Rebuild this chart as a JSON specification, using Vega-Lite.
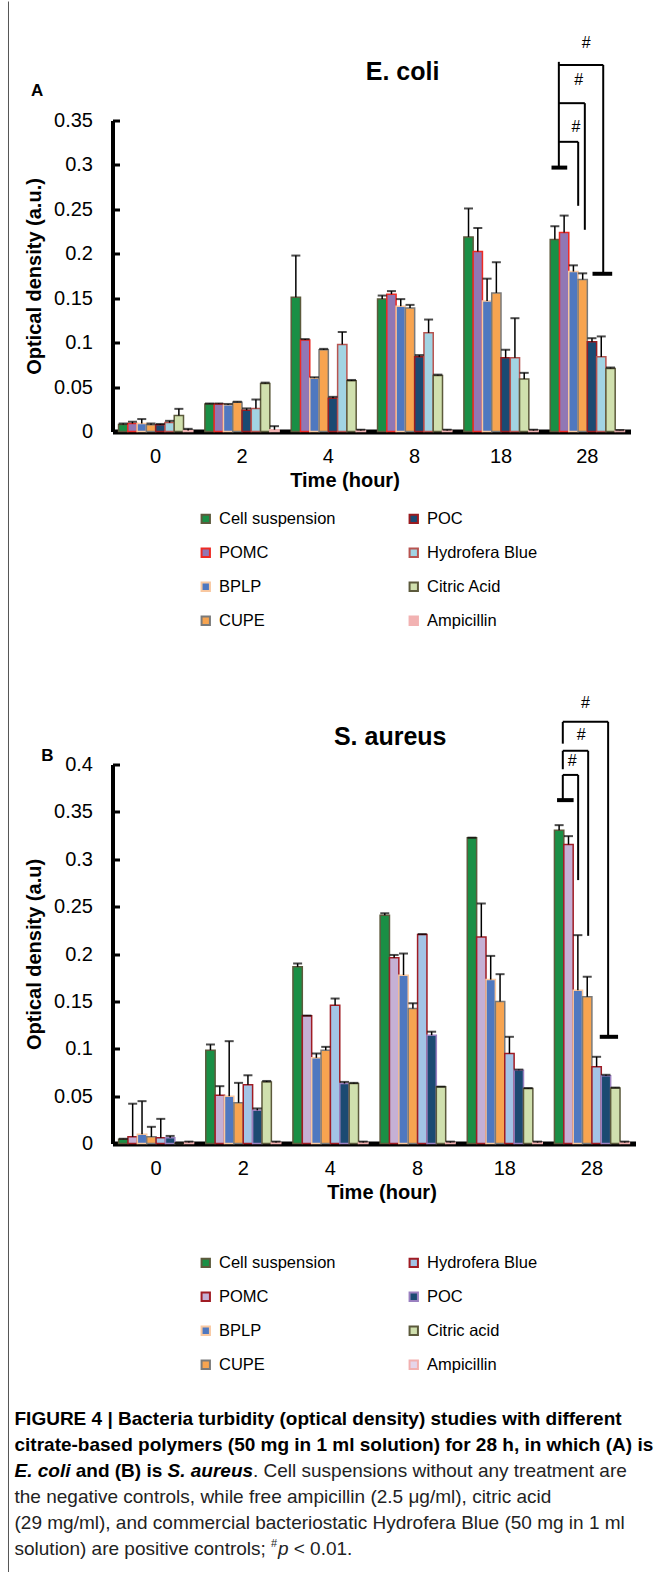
{
  "$schema": "https://vega.github.io/schema/vega-lite/v6.json",
  "padding": {"left": 7.5, "top": 0.5, "right": 0, "bottom": 0},
  "bounds": "flush",
  "spacing": 333,
  "resolve": {"scale": {"fill": "independent", "stroke": "independent", "xOffset": "independent", "x": "independent", "y": "independent"}, "legend": {"fill": "independent", "stroke": "independent"}},
  "config": {
    "view": {"stroke": null},
    "font": "Liberation Sans",
    "axisY": {"domainColor": "black", "domainWidth": 4, "tickColor": "black", "tickWidth": 3, "tickSize": -7, "labelFontSize": 20, "labelColor": "black", "labelPadding": 27, "labelFont": "Liberation Sans", "titleFont": "Liberation Sans", "titleFontSize": 20, "titleFontWeight": "bold", "titleColor": "black", "titlePadding": 9, "grid": false, "format": "~g"},
    "axisX": {"domainColor": "black", "domainWidth": 5, "ticks": false, "labelFontSize": 20, "labelColor": "black", "labelPadding": 15, "labelAngle": 0, "labelFont": "Liberation Sans", "titleFont": "Liberation Sans", "titleFontSize": 20, "titleFontWeight": "bold", "titleColor": "black", "titlePadding": 4, "grid": false},
    "legend": {"labelFontSize": 16.5, "labelColor": "black", "labelFont": "Liberation Sans", "symbolType": "square", "symbolSize": 70, "symbolStrokeWidth": 2, "labelOffset": 5, "columns": 2, "columnPadding": 70, "rowPadding": 17}
  },
  "datasets": {
    "ecoli": [
      {"t": "0", "s": "Cell suspension", "v": 0.008, "hi": 0.009},
      {"t": "0", "s": "POMC", "v": 0.009, "hi": 0.011},
      {"t": "0", "s": "BPLP", "v": 0.009, "hi": 0.014},
      {"t": "0", "s": "CUPE", "v": 0.0075, "hi": 0.009},
      {"t": "0", "s": "POC", "v": 0.0075, "hi": 0.0085},
      {"t": "0", "s": "Hydrofera Blue", "v": 0.010, "hi": 0.012},
      {"t": "0", "s": "Citric Acid", "v": 0.018, "hi": 0.0255},
      {"t": "0", "s": "Ampicillin", "v": 0.001, "hi": 0.003},
      {"t": "2", "s": "Cell suspension", "v": 0.031, "hi": 0.0315},
      {"t": "2", "s": "POMC", "v": 0.031, "hi": 0.0315},
      {"t": "2", "s": "BPLP", "v": 0.030, "hi": 0.031},
      {"t": "2", "s": "CUPE", "v": 0.033, "hi": 0.0335},
      {"t": "2", "s": "POC", "v": 0.024, "hi": 0.026},
      {"t": "2", "s": "Hydrofera Blue", "v": 0.026, "hi": 0.036},
      {"t": "2", "s": "Citric Acid", "v": 0.054, "hi": 0.055},
      {"t": "2", "s": "Ampicillin", "v": 0.002, "hi": 0.006},
      {"t": "4", "s": "Cell suspension", "v": 0.151, "hi": 0.198},
      {"t": "4", "s": "POMC", "v": 0.103, "hi": 0.104},
      {"t": "4", "s": "BPLP", "v": 0.060, "hi": 0.061},
      {"t": "4", "s": "CUPE", "v": 0.092, "hi": 0.093},
      {"t": "4", "s": "POC", "v": 0.0375, "hi": 0.039},
      {"t": "4", "s": "Hydrofera Blue", "v": 0.098, "hi": 0.112},
      {"t": "4", "s": "Citric Acid", "v": 0.057, "hi": 0.058},
      {"t": "4", "s": "Ampicillin", "v": 0.001, "hi": 0.002},
      {"t": "8", "s": "Cell suspension", "v": 0.149, "hi": 0.153},
      {"t": "8", "s": "POMC", "v": 0.1545, "hi": 0.158},
      {"t": "8", "s": "BPLP", "v": 0.141, "hi": 0.149},
      {"t": "8", "s": "CUPE", "v": 0.139, "hi": 0.1425},
      {"t": "8", "s": "POC", "v": 0.084, "hi": 0.086},
      {"t": "8", "s": "Hydrofera Blue", "v": 0.111, "hi": 0.126},
      {"t": "8", "s": "Citric Acid", "v": 0.063, "hi": 0.064},
      {"t": "8", "s": "Ampicillin", "v": 0.001, "hi": 0.002},
      {"t": "18", "s": "Cell suspension", "v": 0.219, "hi": 0.251},
      {"t": "18", "s": "POMC", "v": 0.2025, "hi": 0.229},
      {"t": "18", "s": "BPLP", "v": 0.147, "hi": 0.172},
      {"t": "18", "s": "CUPE", "v": 0.156, "hi": 0.1905},
      {"t": "18", "s": "POC", "v": 0.083, "hi": 0.092},
      {"t": "18", "s": "Hydrofera Blue", "v": 0.083, "hi": 0.1275},
      {"t": "18", "s": "Citric Acid", "v": 0.059, "hi": 0.066},
      {"t": "18", "s": "Ampicillin", "v": 0.001, "hi": 0.002},
      {"t": "28", "s": "Cell suspension", "v": 0.216, "hi": 0.231},
      {"t": "28", "s": "POMC", "v": 0.224, "hi": 0.243},
      {"t": "28", "s": "BPLP", "v": 0.180, "hi": 0.187},
      {"t": "28", "s": "CUPE", "v": 0.171, "hi": 0.178},
      {"t": "28", "s": "POC", "v": 0.101, "hi": 0.105},
      {"t": "28", "s": "Hydrofera Blue", "v": 0.084, "hi": 0.107},
      {"t": "28", "s": "Citric Acid", "v": 0.071, "hi": 0.072},
      {"t": "28", "s": "Ampicillin", "v": 0.001, "hi": 0.0015}
    ],
    "saureus": [
      {"t": "0", "s": "Cell suspension", "v": 0.0046, "hi": 0.005},
      {"t": "0", "s": "POMC", "v": 0.007, "hi": 0.042},
      {"t": "0", "s": "BPLP", "v": 0.0098, "hi": 0.0447},
      {"t": "0", "s": "CUPE", "v": 0.007, "hi": 0.0176},
      {"t": "0", "s": "Hydrofera Blue", "v": 0.006, "hi": 0.026},
      {"t": "0", "s": "POC", "v": 0.006, "hi": 0.008},
      {"t": "0", "s": "Citric acid", "v": 0.0005, "hi": 0.0005},
      {"t": "0", "s": "Ampicillin", "v": 0.001, "hi": 0.002},
      {"t": "2", "s": "Cell suspension", "v": 0.0985, "hi": 0.1045},
      {"t": "2", "s": "POMC", "v": 0.051, "hi": 0.0605},
      {"t": "2", "s": "BPLP", "v": 0.050, "hi": 0.108},
      {"t": "2", "s": "CUPE", "v": 0.043, "hi": 0.064},
      {"t": "2", "s": "Hydrofera Blue", "v": 0.062, "hi": 0.072},
      {"t": "2", "s": "POC", "v": 0.035, "hi": 0.037},
      {"t": "2", "s": "Citric acid", "v": 0.065, "hi": 0.066},
      {"t": "2", "s": "Ampicillin", "v": 0.001, "hi": 0.002},
      {"t": "4", "s": "Cell suspension", "v": 0.1865, "hi": 0.19},
      {"t": "4", "s": "POMC", "v": 0.1347, "hi": 0.135},
      {"t": "4", "s": "BPLP", "v": 0.0904, "hi": 0.095},
      {"t": "4", "s": "CUPE", "v": 0.0985, "hi": 0.102},
      {"t": "4", "s": "Hydrofera Blue", "v": 0.146, "hi": 0.153},
      {"t": "4", "s": "POC", "v": 0.0633, "hi": 0.065},
      {"t": "4", "s": "Citric acid", "v": 0.0633, "hi": 0.064},
      {"t": "4", "s": "Ampicillin", "v": 0.001, "hi": 0.002},
      {"t": "8", "s": "Cell suspension", "v": 0.241, "hi": 0.243},
      {"t": "8", "s": "POMC", "v": 0.196, "hi": 0.199},
      {"t": "8", "s": "BPLP", "v": 0.1777, "hi": 0.2005},
      {"t": "8", "s": "CUPE", "v": 0.1425, "hi": 0.148},
      {"t": "8", "s": "Hydrofera Blue", "v": 0.2206, "hi": 0.221},
      {"t": "8", "s": "POC", "v": 0.1143, "hi": 0.118},
      {"t": "8", "s": "Citric acid", "v": 0.0598, "hi": 0.060},
      {"t": "8", "s": "Ampicillin", "v": 0.001, "hi": 0.002},
      {"t": "18", "s": "Cell suspension", "v": 0.3226, "hi": 0.3228},
      {"t": "18", "s": "POMC", "v": 0.218, "hi": 0.2533},
      {"t": "18", "s": "BPLP", "v": 0.173, "hi": 0.198},
      {"t": "18", "s": "CUPE", "v": 0.150, "hi": 0.1787},
      {"t": "18", "s": "Hydrofera Blue", "v": 0.095, "hi": 0.1126},
      {"t": "18", "s": "POC", "v": 0.0774, "hi": 0.078},
      {"t": "18", "s": "Citric acid", "v": 0.058, "hi": 0.0585},
      {"t": "18", "s": "Ampicillin", "v": 0.001, "hi": 0.002},
      {"t": "28", "s": "Cell suspension", "v": 0.3307, "hi": 0.336},
      {"t": "28", "s": "POMC", "v": 0.3156, "hi": 0.3244},
      {"t": "28", "s": "BPLP", "v": 0.1618, "hi": 0.2199},
      {"t": "28", "s": "CUPE", "v": 0.1548, "hi": 0.176},
      {"t": "28", "s": "Hydrofera Blue", "v": 0.0809, "hi": 0.0915},
      {"t": "28", "s": "POC", "v": 0.0714, "hi": 0.0725},
      {"t": "28", "s": "Citric acid", "v": 0.0587, "hi": 0.059},
      {"t": "28", "s": "Ampicillin", "v": 0.001, "hi": 0.002}
    ],
    "brA": [
      {"k": "line", "xq": 5.17, "xq2": 5.17, "v": 0.416, "v2": 0.297},
      {"k": "cap", "xq": 5.085, "xq2": 5.267, "v": 0.297, "v2": 0.297},
      {"k": "line", "xq": 5.17, "xq2": 5.684, "v": 0.4126, "v2": 0.4126},
      {"k": "line", "xq": 5.684, "xq2": 5.684, "v": 0.4126, "v2": 0.1775},
      {"k": "cap", "xq": 5.56, "xq2": 5.788, "v": 0.1775, "v2": 0.1775},
      {"k": "line", "xq": 5.17, "xq2": 5.471, "v": 0.3695, "v2": 0.3695},
      {"k": "line", "xq": 5.471, "xq2": 5.471, "v": 0.3695, "v2": 0.227},
      {"k": "line", "xq": 5.17, "xq2": 5.394, "v": 0.326, "v2": 0.326},
      {"k": "line", "xq": 5.394, "xq2": 5.394, "v": 0.326, "v2": 0.254},
      {"k": "border", "xq": -1.2047, "xq2": -1.2047, "v": 0.4839, "v2": -1.2852}
    ],
    "txA": [
      {"k": "hash", "xq": 5.487, "v": 0.437, "label": "#"},
      {"k": "hash", "xq": 5.401, "v": 0.396, "label": "#"},
      {"k": "hash", "xq": 5.367, "v": 0.343, "label": "#"},
      {"k": "letter", "xq": -0.872, "v": 0.3837, "label": "A"},
      {"k": "title", "xq": 3.36, "v": 0.4043, "label": "E. coli"}
    ],
    "brB": [
      {"k": "line", "xq": 5.166, "xq2": 5.166, "v": 0.445, "v2": 0.422},
      {"k": "line", "xq": 5.166, "xq2": 5.166, "v": 0.4145, "v2": 0.395},
      {"k": "line", "xq": 5.166, "xq2": 5.166, "v": 0.389, "v2": 0.3624},
      {"k": "cap", "xq": 5.10, "xq2": 5.29, "v": 0.3624, "v2": 0.3624},
      {"k": "line", "xq": 5.166, "xq2": 5.686, "v": 0.445, "v2": 0.445},
      {"k": "line", "xq": 5.686, "xq2": 5.686, "v": 0.445, "v2": 0.1126},
      {"k": "cap", "xq": 5.59, "xq2": 5.80, "v": 0.1126, "v2": 0.1126},
      {"k": "line", "xq": 5.166, "xq2": 5.457, "v": 0.4145, "v2": 0.4145},
      {"k": "line", "xq": 5.457, "xq2": 5.457, "v": 0.4145, "v2": 0.2192},
      {"k": "line", "xq": 5.166, "xq2": 5.342, "v": 0.389, "v2": 0.389},
      {"k": "line", "xq": 5.342, "xq2": 5.342, "v": 0.389, "v2": 0.278}
    ],
    "txB": [
      {"k": "hash", "xq": 5.427, "v": 0.4644, "label": "#"},
      {"k": "hash", "xq": 5.377, "v": 0.431, "label": "#"},
      {"k": "hash", "xq": 5.273, "v": 0.4036, "label": "#"},
      {"k": "letter", "xq": -0.746, "v": 0.4085, "label": "B"},
      {"k": "title", "xq": 3.186, "v": 0.429, "label": "S. aureus"}
    ],
    "cap": [
      {"line": 1, "xf": 0, "k": "b", "txt": "FIGURE 4 | Bacteria turbidity (optical density) studies with different"},
      {"line": 2, "xf": 0, "k": "b", "txt": "citrate-based polymers (50 mg in 1 ml solution) for 28 h, in which (A) is"},
      {"line": 3, "xf": 0, "k": "bi", "txt": "E. coli"},
      {"line": 3, "xf": 0.0984, "k": "b", "txt": "and (B) is"},
      {"line": 3, "xf": 0.246, "k": "bi", "txt": "S. aureus"},
      {"line": 3, "xf": 0.3834, "k": "n", "txt": ". Cell suspensions without any treatment are"},
      {"line": 4, "xf": 0, "k": "n", "txt": "the negative controls, while free ampicillin (2.5 μg/ml), citric acid"},
      {"line": 5, "xf": 0, "k": "n", "txt": "(29 mg/ml), and commercial bacteriostatic Hydrofera Blue (50 mg in 1 ml"},
      {"line": 6, "xf": 0, "k": "n", "txt": "solution) are positive controls;"},
      {"line": 6, "xf": 0.4125, "k": "sup", "txt": "#"},
      {"line": 6, "xf": 0.4236, "k": "ni", "txt": "p"},
      {"line": 6, "xf": 0.4489, "k": "n", "txt": "< 0.01."}
    ]
  },
  "vconcat": [
    {
      "width": 518,
      "height": 311,
      "resolve": {"scale": {"x": "independent"}},
      "layer": [
        {
          "data": {"name": "ecoli"},
          "layer": [
            {
              "mark": {"type": "bar", "strokeWidth": 1.5},
              "encoding": {
                "x": {"field": "t", "type": "ordinal", "sort": ["0", "2", "4", "8", "18", "28"], "scale": {"paddingInner": 0.14, "paddingOuter": 0.07}, "title": "Time (hour)", "axis": {"titleX": 232}},
                "xOffset": {"field": "s", "type": "nominal", "sort": ["Cell suspension", "POMC", "BPLP", "CUPE", "POC", "Hydrofera Blue", "Citric Acid", "Ampicillin"], "scale": {"paddingInner": 0}},
                "y": {"field": "v", "type": "quantitative", "scale": {"domain": [0, 0.35], "nice": false}, "title": "Optical density (a.u.)", "axis": {"values": [0, 0.05, 0.1, 0.15, 0.2, 0.25, 0.3, 0.35]}},
                "fill": {"field": "s", "type": "nominal", "scale": {"domain": ["Cell suspension", "POMC", "BPLP", "CUPE", "POC", "Hydrofera Blue", "Citric Acid", "Ampicillin"], "range": ["#1a8f45", "#9177b4", "#4f78c0", "#f7a450", "#1b4a72", "#a2d4e3", "#d0e0ae", "#f2b2b2"]}, "legend": {"title": null, "orient": "none", "legendX": 85, "legendY": 390}},
                "stroke": {"field": "s", "type": "nominal", "scale": {"domain": ["Cell suspension", "POMC", "BPLP", "CUPE", "POC", "Hydrofera Blue", "Citric Acid", "Ampicillin"], "range": ["#5c5a3c", "#ee2a24", "#f9c8a0", "#7a7a7a", "#9a1c20", "#b85450", "#5c5a3c", "#f2b2b2"]}, "legend": {"title": null, "orient": "none", "legendX": 85, "legendY": 390}}
              }
            },
            {
              "mark": {"type": "rule", "color": "black", "strokeWidth": 1.5},
              "encoding": {
                "x": {"field": "t", "type": "ordinal", "sort": ["0", "2", "4", "8", "18", "28"], "title": "Time (hour)"},
                "xOffset": {"field": "s", "type": "nominal", "sort": ["Cell suspension", "POMC", "BPLP", "CUPE", "POC", "Hydrofera Blue", "Citric Acid", "Ampicillin"]},
                "y": {"field": "v", "type": "quantitative", "title": "Optical density (a.u.)"},
                "y2": {"field": "hi"}
              }
            },
            {
              "mark": {"type": "tick", "color": "black", "thickness": 2, "size": 9},
              "encoding": {
                "x": {"field": "t", "type": "ordinal", "sort": ["0", "2", "4", "8", "18", "28"], "title": "Time (hour)"},
                "xOffset": {"field": "s", "type": "nominal", "sort": ["Cell suspension", "POMC", "BPLP", "CUPE", "POC", "Hydrofera Blue", "Citric Acid", "Ampicillin"]},
                "y": {"field": "hi", "type": "quantitative", "title": "Optical density (a.u.)"}
              }
            }
          ]
        },
        {
          "layer": [
            {
              "data": {"name": "brA"},
              "transform": [{"filter": "datum.k == 'line'"}],
              "mark": {"type": "rule", "color": "black", "strokeWidth": 2},
              "encoding": {
                "x": {"field": "xq", "type": "quantitative", "scale": {"domain": [0, 6], "nice": false, "zero": false}, "axis": null},
                "x2": {"field": "xq2"},
                "y": {"field": "v", "type": "quantitative", "title": "Optical density (a.u.)"},
                "y2": {"field": "v2"}
              }
            },
            {
              "data": {"name": "brA"},
              "transform": [{"filter": "datum.k == 'cap'"}],
              "mark": {"type": "rule", "color": "black", "strokeWidth": 4},
              "encoding": {
                "x": {"field": "xq", "type": "quantitative", "axis": null},
                "x2": {"field": "xq2"},
                "y": {"field": "v", "type": "quantitative", "title": "Optical density (a.u.)"},
                "y2": {"field": "v2"}
              }
            },
            {
              "data": {"name": "brA"},
              "transform": [{"filter": "datum.k == 'border'"}],
              "mark": {"type": "rule", "color": "#555555", "strokeWidth": 1},
              "encoding": {
                "x": {"field": "xq", "type": "quantitative", "axis": null},
                "x2": {"field": "xq2"},
                "y": {"field": "v", "type": "quantitative", "title": "Optical density (a.u.)"},
                "y2": {"field": "v2"}
              }
            },
            {
              "data": {"name": "txA"},
              "transform": [{"filter": "datum.k == 'hash'"}],
              "mark": {"type": "text", "fontSize": 16, "color": "black", "baseline": "middle", "align": "center"},
              "encoding": {
                "x": {"field": "xq", "type": "quantitative", "axis": null},
                "y": {"field": "v", "type": "quantitative", "title": "Optical density (a.u.)"},
                "text": {"field": "label"}
              }
            },
            {
              "data": {"name": "txA"},
              "transform": [{"filter": "datum.k == 'letter'"}],
              "mark": {"type": "text", "fontSize": 17, "fontWeight": "bold", "color": "black", "baseline": "middle", "align": "center"},
              "encoding": {
                "x": {"field": "xq", "type": "quantitative", "axis": null},
                "y": {"field": "v", "type": "quantitative", "title": "Optical density (a.u.)"},
                "text": {"field": "label"}
              }
            },
            {
              "data": {"name": "txA"},
              "transform": [{"filter": "datum.k == 'title'"}],
              "mark": {"type": "text", "fontSize": 25, "fontWeight": "bold", "color": "black", "baseline": "middle", "align": "center"},
              "encoding": {
                "x": {"field": "xq", "type": "quantitative", "axis": null},
                "y": {"field": "v", "type": "quantitative", "title": "Optical density (a.u.)"},
                "text": {"field": "label"}
              }
            }
          ]
        }
      ]
    },
    {
      "width": 523,
      "height": 379,
      "resolve": {"scale": {"x": "independent"}},
      "layer": [
        {
          "data": {"name": "saureus"},
          "layer": [
            {
              "mark": {"type": "bar", "strokeWidth": 1.5},
              "encoding": {
                "x": {"field": "t", "type": "ordinal", "sort": ["0", "2", "4", "8", "18", "28"], "scale": {"paddingInner": 0.14, "paddingOuter": 0.07}, "title": "Time (hour)", "axis": {"titleX": 269}},
                "xOffset": {"field": "s", "type": "nominal", "sort": ["Cell suspension", "POMC", "BPLP", "CUPE", "Hydrofera Blue", "POC", "Citric acid", "Ampicillin"], "scale": {"paddingInner": 0}},
                "y": {"field": "v", "type": "quantitative", "scale": {"domain": [0, 0.4], "nice": false}, "title": "Optical density (a.u)", "axis": {"values": [0, 0.05, 0.1, 0.15, 0.2, 0.25, 0.3, 0.35, 0.4]}},
                "fill": {"field": "s", "type": "nominal", "scale": {"domain": ["Cell suspension", "POMC", "BPLP", "CUPE", "Hydrofera Blue", "POC", "Citric acid", "Ampicillin"], "range": ["#1a8f45", "#c5b0d5", "#4f78c0", "#f7a450", "#a3c4e6", "#1b4a72", "#d0e0ae", "#e5d5ea"]}, "legend": {"title": null, "orient": "none", "legendX": 85, "legendY": 490}},
                "stroke": {"field": "s", "type": "nominal", "scale": {"domain": ["Cell suspension", "POMC", "BPLP", "CUPE", "Hydrofera Blue", "POC", "Citric acid", "Ampicillin"], "range": ["#5c5a3c", "#a01c24", "#f9c8a0", "#7a7a7a", "#a01c24", "#9a80c0", "#5c5a3c", "#f2b0b0"]}, "legend": {"title": null, "orient": "none", "legendX": 85, "legendY": 490}}
              }
            },
            {
              "mark": {"type": "rule", "color": "black", "strokeWidth": 1.5},
              "encoding": {
                "x": {"field": "t", "type": "ordinal", "sort": ["0", "2", "4", "8", "18", "28"], "title": "Time (hour)"},
                "xOffset": {"field": "s", "type": "nominal", "sort": ["Cell suspension", "POMC", "BPLP", "CUPE", "Hydrofera Blue", "POC", "Citric acid", "Ampicillin"]},
                "y": {"field": "v", "type": "quantitative", "title": "Optical density (a.u)"},
                "y2": {"field": "hi"}
              }
            },
            {
              "mark": {"type": "tick", "color": "black", "thickness": 2, "size": 9},
              "encoding": {
                "x": {"field": "t", "type": "ordinal", "sort": ["0", "2", "4", "8", "18", "28"], "title": "Time (hour)"},
                "xOffset": {"field": "s", "type": "nominal", "sort": ["Cell suspension", "POMC", "BPLP", "CUPE", "Hydrofera Blue", "POC", "Citric acid", "Ampicillin"]},
                "y": {"field": "hi", "type": "quantitative", "title": "Optical density (a.u)"}
              }
            }
          ]
        },
        {
          "layer": [
            {
              "data": {"name": "brB"},
              "transform": [{"filter": "datum.k == 'line'"}],
              "mark": {"type": "rule", "color": "black", "strokeWidth": 2},
              "encoding": {
                "x": {"field": "xq", "type": "quantitative", "scale": {"domain": [0, 6], "nice": false, "zero": false}, "axis": null},
                "x2": {"field": "xq2"},
                "y": {"field": "v", "type": "quantitative", "title": "Optical density (a.u)"},
                "y2": {"field": "v2"}
              }
            },
            {
              "data": {"name": "brB"},
              "transform": [{"filter": "datum.k == 'cap'"}],
              "mark": {"type": "rule", "color": "black", "strokeWidth": 4},
              "encoding": {
                "x": {"field": "xq", "type": "quantitative", "axis": null},
                "x2": {"field": "xq2"},
                "y": {"field": "v", "type": "quantitative", "title": "Optical density (a.u)"},
                "y2": {"field": "v2"}
              }
            },
            {
              "data": {"name": "txB"},
              "transform": [{"filter": "datum.k == 'hash'"}],
              "mark": {"type": "text", "fontSize": 16, "color": "black", "baseline": "middle", "align": "center"},
              "encoding": {
                "x": {"field": "xq", "type": "quantitative", "axis": null},
                "y": {"field": "v", "type": "quantitative", "title": "Optical density (a.u)"},
                "text": {"field": "label"}
              }
            },
            {
              "data": {"name": "txB"},
              "transform": [{"filter": "datum.k == 'letter'"}],
              "mark": {"type": "text", "fontSize": 17, "fontWeight": "bold", "color": "black", "baseline": "middle", "align": "center"},
              "encoding": {
                "x": {"field": "xq", "type": "quantitative", "axis": null},
                "y": {"field": "v", "type": "quantitative", "title": "Optical density (a.u)"},
                "text": {"field": "label"}
              }
            },
            {
              "data": {"name": "txB"},
              "transform": [{"filter": "datum.k == 'title'"}],
              "mark": {"type": "text", "fontSize": 25, "fontWeight": "bold", "color": "black", "baseline": "middle", "align": "center"},
              "encoding": {
                "x": {"field": "xq", "type": "quantitative", "axis": null},
                "y": {"field": "v", "type": "quantitative", "title": "Optical density (a.u)"},
                "text": {"field": "label"}
              }
            }
          ]
        }
      ]
    },
    {
      "width": 523,
      "height": 72,
      "data": {"name": "cap"},
      "encoding": {
        "x": {"field": "xf", "type": "quantitative", "scale": {"domain": [0, 1], "range": [-98, 524]}, "axis": null},
        "y": {"field": "line", "type": "quantitative", "scale": {"domain": [1, 6], "range": [-58, 72], "zero": false, "nice": false}, "axis": null},
        "text": {"field": "txt"}
      },
      "layer": [
        {"transform": [{"filter": "datum.k == 'b'"}], "mark": {"type": "text", "align": "left", "baseline": "middle", "fontSize": 19, "fontWeight": "bold", "color": "black"}},
        {"transform": [{"filter": "datum.k == 'bi'"}], "mark": {"type": "text", "align": "left", "baseline": "middle", "fontSize": 19, "fontWeight": "bold", "fontStyle": "italic", "color": "black"}},
        {"transform": [{"filter": "datum.k == 'n'"}], "mark": {"type": "text", "align": "left", "baseline": "middle", "fontSize": 19, "color": "#222222"}},
        {"transform": [{"filter": "datum.k == 'ni'"}], "mark": {"type": "text", "align": "left", "baseline": "middle", "fontSize": 19, "fontStyle": "italic", "color": "#222222"}},
        {"transform": [{"filter": "datum.k == 'sup'"}], "mark": {"type": "text", "align": "left", "baseline": "middle", "fontSize": 11, "dy": -5, "color": "#222222"}}
      ]
    }
  ]
}
